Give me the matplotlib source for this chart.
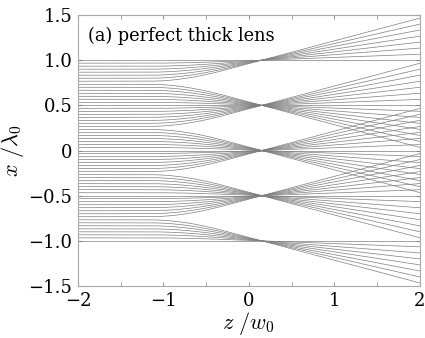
import numpy as np
import matplotlib
matplotlib.use("Agg")
import matplotlib.pyplot as plt

plt.rcParams['font.family'] = ['DejaVu Serif']
plt.rcParams['mathtext.fontset'] = 'cm'

# ---- data ----
# starting transverse positions of the rays (x / lambda0), evenly spaced
x_start = [-1.0, -0.967, -0.933, -0.9, -0.867, -0.833, -0.8, -0.767, -0.733, -0.7,
           -0.667, -0.633, -0.6, -0.567, -0.533, -0.5, -0.467, -0.433, -0.4, -0.367,
           -0.333, -0.3, -0.267, -0.233, -0.2, -0.167, -0.133, -0.1, -0.067, -0.033,
           0.0, 0.033, 0.067, 0.1, 0.133, 0.167, 0.2, 0.233, 0.267, 0.3,
           0.333, 0.367, 0.4, 0.433, 0.467, 0.5, 0.533, 0.567, 0.6, 0.633,
           0.667, 0.7, 0.733, 0.767, 0.8, 0.833, 0.867, 0.9, 0.933, 0.967, 1.0]
# focal points of the lens array (x / lambda0)
foci = [-1.0, -0.5, 0.0, 0.5, 1.0]
# offset from focus at the right edge (z = 2) is -2 x start offset
end_ratio = -2.0
z_focus = 0.15        # rays cross
z_range = [-2.0, 2.0]
x_ticks = [-2, -1, 0, 1, 2]
y_ticks = [-1.5, -1.0, -0.5, 0.0, 0.5, 1.0, 1.5]
y_ticklabels = ['\u22121.5', '\u22121.0', '\u22120.5', '0', '0.5', '1.0', '1.5']
x_ticklabels = ['\u22122', '\u22121', '0', '1', '2']

# ---- ray profile: graded-index section followed by free propagation ----
phi = 1.1
s = (0 - end_ratio) / (z_range[1] - z_focus)   # slope after the lens
k = s / np.sin(phi)
z_lens_in = z_focus - (phi + 1 / np.tan(phi)) / k
z_exit = z_lens_in + phi / k

z = np.linspace(z_range[0], z_range[1], 600)
prof = np.ones_like(z)
inside = (z >= z_lens_in) & (z <= z_exit)
prof[inside] = np.cos(k * (z[inside] - z_lens_in))
after = z > z_exit
prof[after] = np.cos(phi) - k * np.sin(phi) * (z[after] - z_exit)

fig = plt.figure(figsize=(4.25, 3.38), dpi=100)
ax = fig.add_axes([0.1835, 0.1538, 0.8045, 0.8018])

for x0 in x_start:
    c = min(foci, key=lambda f: abs(f - x0))
    d = x0 - c
    ax.plot(z, c + d * prof, color='#7f7f7f', lw=0.5)

ax.set_xlim(*z_range)
ax.set_ylim(-1.5, 1.5)
ax.set_xticks(x_ticks)
ax.set_xticklabels(x_ticklabels)
ax.set_xticks([-1.5, -0.5, 0.5, 1.5], minor=True)
ax.set_yticks(y_ticks)
ax.set_yticklabels(y_ticklabels)
ax.tick_params(which='both', direction='in', top=True, right=True,
               color='#999999', labelsize=13, length=3, pad=4)
for sp in ax.spines.values():
    sp.set_color('#aaaaaa')
    sp.set_linewidth(0.8)

ax.set_xlabel(r'$z\ /w_0$', fontsize=16, labelpad=0)
ax.set_ylabel(r'$x\ /\lambda_0$', fontsize=16, labelpad=2)
ax.text(0.03, 0.955, '(a) perfect thick lens', transform=ax.transAxes,
        fontsize=12.8, va='top', ha='left')

fig.savefig('out.png', dpi=100)
